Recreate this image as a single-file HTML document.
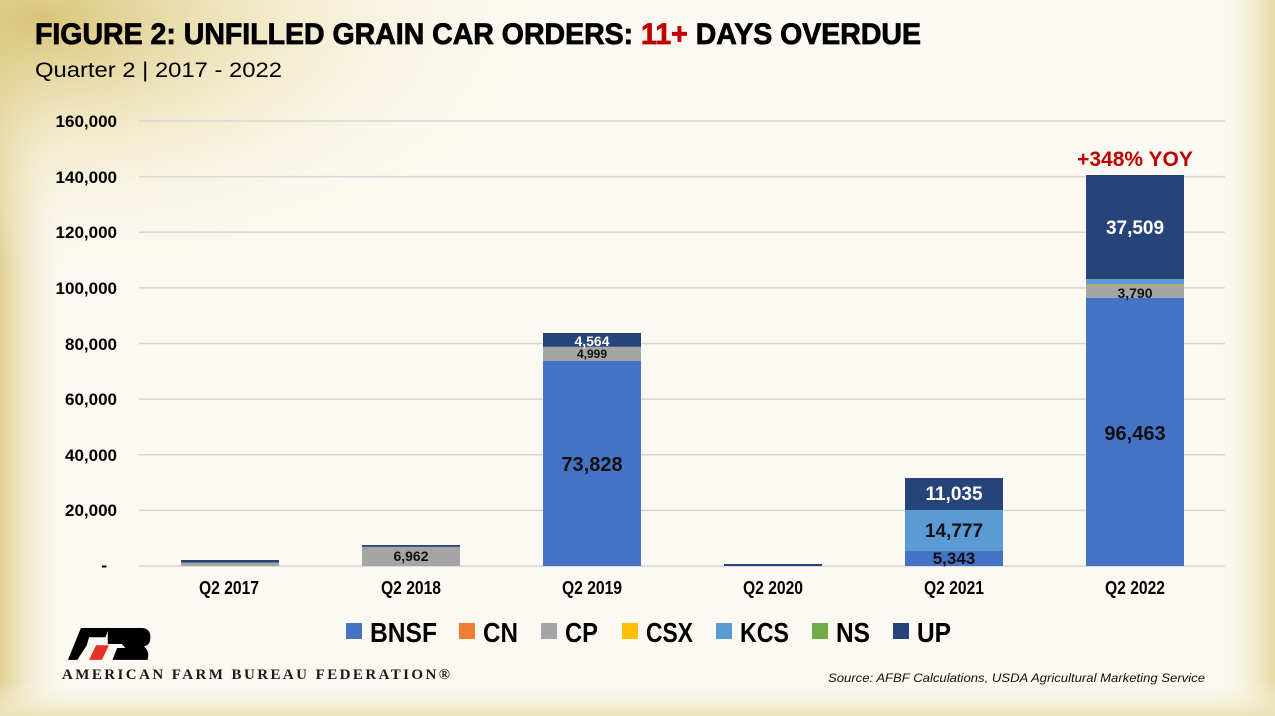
<!DOCTYPE html>
<html><head><meta charset="utf-8"><style>
html,body{margin:0;padding:0;width:1275px;height:716px;overflow:hidden}
body{background:#fbf9f1}
</style></head><body>
<svg width="1275" height="716" viewBox="0 0 1275 716" xmlns="http://www.w3.org/2000/svg" font-family="Liberation Sans, sans-serif">
<defs>
<radialGradient id="g1" cx="0" cy="0" r="1" gradientUnits="userSpaceOnUse" gradientTransform="translate(40 20) scale(520 260)">
<stop offset="0" stop-color="#d9c477"/><stop offset="0.5" stop-color="#efe5bd" stop-opacity="0.6"/><stop offset="1" stop-color="#fbf9f1" stop-opacity="0"/></radialGradient>
<linearGradient id="gl" x1="0" x2="1" y1="0" y2="0"><stop offset="0" stop-color="#e0cf8e"/><stop offset="1" stop-color="#fbf9f1" stop-opacity="0"/></linearGradient>
<linearGradient id="gr" x1="1" x2="0" y1="0" y2="0"><stop offset="0" stop-color="#e6d9a2"/><stop offset="1" stop-color="#fbf9f1" stop-opacity="0"/></linearGradient>
<linearGradient id="gb" x1="0" x2="0" y1="1" y2="0"><stop offset="0" stop-color="#ece2b8"/><stop offset="1" stop-color="#fbf9f1" stop-opacity="0"/></linearGradient>
</defs>
<rect width="1275" height="716" fill="#fbf9f1"/>
<rect width="70" height="716" fill="url(#gl)"/>
<rect x="1215" width="60" height="716" fill="url(#gr)"/>
<rect y="680" width="1275" height="36" fill="url(#gb)"/>
<rect width="1275" height="716" fill="url(#g1)"/>

<text x="35" y="44" font-size="30" font-weight="bold" textLength="886" lengthAdjust="spacingAndGlyphs" fill="#000" stroke="#000" stroke-width="0.8">FIGURE 2: UNFILLED GRAIN CAR ORDERS: <tspan fill="#c00000" stroke="#c00000">11+</tspan> DAYS OVERDUE</text>
<text x="35" y="77" font-size="21" textLength="247" lengthAdjust="spacingAndGlyphs" fill="#000">Quarter 2 | 2017 - 2022</text>

<g stroke="#d6d6d6" stroke-width="1.5">
<line x1="139" x2="1225" y1="121" y2="121"/><line x1="139" x2="1225" y1="176.6" y2="176.6"/>
<line x1="139" x2="1225" y1="232.25" y2="232.25"/><line x1="139" x2="1225" y1="287.9" y2="287.9"/>
<line x1="139" x2="1225" y1="343.5" y2="343.5"/><line x1="139" x2="1225" y1="399.1" y2="399.1"/>
<line x1="139" x2="1225" y1="454.75" y2="454.75"/><line x1="139" x2="1225" y1="510.4" y2="510.4"/>
<line x1="139" x2="1225" y1="566" y2="566"/>
</g>
<g font-size="17" font-weight="bold" text-anchor="end" fill="#000">
<text x="117" y="127">160,000</text><text x="117" y="183">140,000</text><text x="117" y="238">120,000</text>
<text x="117" y="294">100,000</text><text x="117" y="350">80,000</text><text x="117" y="405">60,000</text>
<text x="117" y="461">40,000</text><text x="117" y="516">20,000</text><text x="107" y="571">-</text>
</g>

<rect x="181" y="562" width="98" height="4" fill="#a5a5a5"/><rect x="181" y="560" width="98" height="2.5" fill="#264478"/>
<rect x="362" y="546.6" width="98" height="19.4" fill="#a5a5a5"/><rect x="362" y="545" width="98" height="1.8" fill="#264478"/>
<rect x="543" y="360.7" width="98" height="205.3" fill="#4472c4"/><rect x="543" y="346.8" width="98" height="13.9" fill="#a5a5a5"/><rect x="543" y="333" width="98" height="13.8" fill="#264478"/>
<rect x="724" y="564" width="98" height="2" fill="#264478"/>
<rect x="905" y="551" width="98" height="15" fill="#4472c4"/><rect x="905" y="510" width="98" height="41" fill="#5b9bd5"/><rect x="905" y="478" width="98" height="32" fill="#264478"/>
<rect x="1086" y="297.7" width="98" height="268.3" fill="#4472c4"/><rect x="1086" y="285" width="98" height="12.7" fill="#a5a5a5"/><rect x="1086" y="284.5" width="98" height="0.8" fill="#ffc000"/><rect x="1086" y="279" width="98" height="5.5" fill="#5b9bd5"/><rect x="1086" y="175" width="98" height="104" fill="#264478"/>

<g font-weight="bold" text-anchor="middle">
<text x="411" y="561" font-size="14" fill="#111">6,962</text>
<text x="592" y="471" font-size="20" fill="#111">73,828</text>
<text x="592" y="358" font-size="12" fill="#111">4,999</text>
<text x="592" y="346" font-size="14" fill="#fff">4,564</text>
<text x="954" y="500" font-size="19" fill="#fff">11,035</text>
<text x="954" y="537" font-size="19" fill="#111">14,777</text>
<text x="954" y="564" font-size="17" fill="#111">5,343</text>
<text x="1135" y="440" font-size="20" fill="#111">96,463</text>
<text x="1135" y="298" font-size="14" fill="#111">3,790</text>
<text x="1135" y="234" font-size="19" fill="#fff">37,509</text>
<text x="1135" y="166" font-size="21" fill="#c00000">+348% YOY</text>
</g>

<g font-weight="bold" font-size="18" fill="#000" text-anchor="middle">
<text x="229" y="594" textLength="60" lengthAdjust="spacingAndGlyphs">Q2 2017</text>
<text x="411" y="594" textLength="60" lengthAdjust="spacingAndGlyphs">Q2 2018</text>
<text x="592" y="594" textLength="60" lengthAdjust="spacingAndGlyphs">Q2 2019</text>
<text x="773" y="594" textLength="60" lengthAdjust="spacingAndGlyphs">Q2 2020</text>
<text x="954" y="594" textLength="60" lengthAdjust="spacingAndGlyphs">Q2 2021</text>
<text x="1135" y="594" textLength="60" lengthAdjust="spacingAndGlyphs">Q2 2022</text>
</g>

<g font-weight="bold" font-size="28" fill="#000">
<rect x="346" y="623" width="16" height="16" fill="#4472c4"/><text x="370" y="642" textLength="67" lengthAdjust="spacingAndGlyphs">BNSF</text>
<rect x="459" y="623" width="16" height="16" fill="#ed7d31"/><text x="483" y="642" textLength="35" lengthAdjust="spacingAndGlyphs">CN</text>
<rect x="541" y="623" width="16" height="16" fill="#a5a5a5"/><text x="565" y="642" textLength="33" lengthAdjust="spacingAndGlyphs">CP</text>
<rect x="622" y="623" width="16" height="16" fill="#ffc000"/><text x="646" y="642" textLength="47" lengthAdjust="spacingAndGlyphs">CSX</text>
<rect x="716" y="623" width="16" height="16" fill="#5b9bd5"/><text x="740" y="642" textLength="49" lengthAdjust="spacingAndGlyphs">KCS</text>
<rect x="812" y="623" width="16" height="16" fill="#70ad47"/><text x="836" y="642" textLength="34" lengthAdjust="spacingAndGlyphs">NS</text>
<rect x="893" y="623" width="16" height="16" fill="#264478"/><text x="917" y="642" textLength="34" lengthAdjust="spacingAndGlyphs">UP</text>
</g>

<g transform="translate(68 628) scale(1.17 1.33) translate(-80 -628)">
<polygon points="80,652 91,628 115,628 112,635 98,635 96,641 88,652" fill="#000"/>
<polygon points="98,652 104,641 115,641 109,652" fill="#e53027"/>
<path d="M114,628 L144,628 Q152,629 150,638 Q149,641 145,642 Q150,645 148,652 L118,652 L122,643 L129,643 L126,640 L114,640 Z" fill="#000"/>
</g>
<text x="62" y="679" font-family="Liberation Serif, serif" font-size="15" font-weight="bold" fill="#1a1a1a" textLength="388" lengthAdjust="spacing">AMERICAN FARM BUREAU FEDERATION®</text>
<text x="828" y="682" font-size="12" font-style="italic" fill="#111" textLength="377" lengthAdjust="spacingAndGlyphs">Source: AFBF Calculations, USDA Agricultural Marketing Service</text>
</svg>
</body></html>
